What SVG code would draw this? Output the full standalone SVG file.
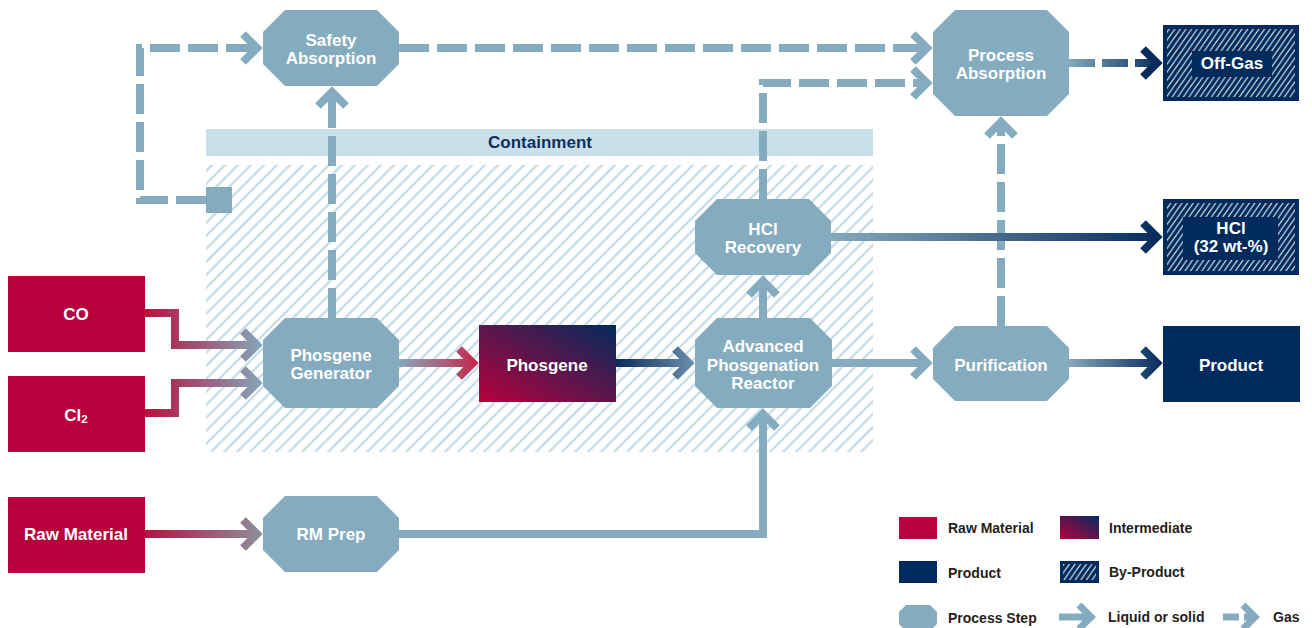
<svg xmlns="http://www.w3.org/2000/svg" width="1312" height="628" viewBox="0 0 1312 628">
<defs>
<style>
text{font-family:"Liberation Sans",Arial,sans-serif;font-weight:bold}
.nt{fill:#ffffff;font-size:17px;text-anchor:middle}
.lt{fill:#231f20;font-size:14px}
.step{fill:#85acbe}
.raw{fill:#b8003c}
.prod{fill:#002b5c}
.ln{fill:none;stroke-width:8;stroke-linejoin:miter;stroke-linecap:butt}
.gas{stroke-dasharray:30 8}
.lb{stroke:#85acbe}
</style>
<pattern id="hatch" patternUnits="userSpaceOnUse" width="13" height="13">
<path d="M-3,3 L3,-3 M0,13 L13,0 M10,16 L16,10" stroke="#c9dfea" stroke-width="2.6"/>
</pattern>
<pattern id="bph" patternUnits="userSpaceOnUse" width="6.5" height="6.5" patternTransform="rotate(-10)">
<path d="M-1.5,1.5 L1.5,-1.5 M0,6.5 L6.5,0 M5,8 L8,5" stroke="#ffffff" stroke-width="1"/>
</pattern>
<linearGradient id="gInter" x1="0" y1="1" x2="1" y2="0">
<stop offset="0" stop-color="#b8003c"/>
<stop offset="1" stop-color="#022a5c"/>
</linearGradient>
<linearGradient id="gCO" gradientUnits="userSpaceOnUse" x1="145" y1="0" x2="262" y2="0">
<stop offset="0" stop-color="#b8103f"/>
<stop offset="1" stop-color="#84a6b9"/>
</linearGradient>
<linearGradient id="gRM" gradientUnits="userSpaceOnUse" x1="145" y1="0" x2="262" y2="0">
<stop offset="0" stop-color="#b8103f"/>
<stop offset="1" stop-color="#8c8f9c"/>
</linearGradient>
<linearGradient id="gPG" gradientUnits="userSpaceOnUse" x1="399" y1="0" x2="478" y2="0">
<stop offset="0" stop-color="#86a9bc"/>
<stop offset="1" stop-color="#c4264b"/>
</linearGradient>
<linearGradient id="gPh" gradientUnits="userSpaceOnUse" x1="616" y1="0" x2="694" y2="0">
<stop offset="0" stop-color="#0b2c5a"/>
<stop offset="1" stop-color="#6a8fab"/>
</linearGradient>
<linearGradient id="gPur" gradientUnits="userSpaceOnUse" x1="1069" y1="0" x2="1162" y2="0">
<stop offset="0" stop-color="#86a9bc"/>
<stop offset="1" stop-color="#052b5c"/>
</linearGradient>
<linearGradient id="gHCl" gradientUnits="userSpaceOnUse" x1="831" y1="0" x2="1162" y2="0">
<stop offset="0" stop-color="#86a9bc"/>
<stop offset="1" stop-color="#052b5c"/>
</linearGradient>
</defs>

<rect width="1312" height="628" fill="#ffffff"/>

<g id="containment">
<rect x="206" y="165" width="667" height="287" fill="url(#hatch)"/>
<rect x="206" y="129" width="667" height="27" fill="#c9dfea"/>
<text x="540" y="148" style="fill:#0d2f5c;font-size:17px" text-anchor="middle">Containment</text>
</g>

<g id="connectors">
<path class="ln gas lb" d="M206,200 H140 V48 H257"/>
<path class="ln lb" d="M243,34 L257,48 L243,62"/>
<path class="ln gas lb" d="M332,318 V92"/>
<path class="ln lb" d="M318,106 L332,92 L346,106"/>
<path class="ln gas lb" d="M399,48 H927"/>
<path class="ln lb" d="M913,34 L927,48 L913,62"/>
<path class="ln gas lb" d="M763,199 V83 H927"/>
<path class="ln lb" d="M913,69 L927,83 L913,97"/>
<path class="ln gas lb" d="M1001,326 V122"/>
<path class="ln lb" d="M987,136 L1001,122 L1015,136"/>
<path class="ln" stroke="url(#gPur)" stroke-dasharray="26 7" d="M1069,63 H1157"/>
<path class="ln" stroke="#052b5c" d="M1143,49 L1157,63 L1143,77"/>
<path class="ln" stroke="url(#gHCl)" d="M831,237 H1157 M1143,223 L1157,237 L1143,251"/>
<path class="ln" stroke="url(#gCO)" d="M145,313 H175 V345 H257 M243,331 L257,345 L243,359"/>
<path class="ln" stroke="url(#gCO)" d="M145,413 H175 V383 H257 M243,369 L257,383 L243,397"/>
<path class="ln" stroke="url(#gPG)" d="M399,363 H473 M459,349 L473,363 L459,377"/>
<path class="ln" stroke="url(#gPh)" d="M616,363 H689 M675,349 L689,363 L675,377"/>
<path class="ln lb" d="M763,318 V281 M749,295 L763,281 L777,295"/>
<path class="ln lb" d="M832,363 H927 M913,349 L927,363 L913,377"/>
<path class="ln" stroke="url(#gPur)" d="M1069,363 H1157 M1143,349 L1157,363 L1143,377"/>
<path class="ln lb" d="M399,534 H763 V414 M749,428 L763,414 L777,428"/>
<path class="ln" stroke="url(#gRM)" d="M145,534 H257 M243,520 L257,534 L243,548"/>
</g>

<g id="vent"><rect x="206" y="187" width="26" height="26" fill="#85acbe"/></g>

<g id="co"><rect class="raw" x="8" y="276" width="137" height="76"/><text class="nt" x="76" y="320">CO</text></g>
<g id="cl2"><rect class="raw" x="8" y="376" width="137" height="76"/><text class="nt" x="76" y="420.5">Cl<tspan font-size="11.5px" dy="2">2</tspan></text></g>
<g id="raw-material"><rect class="raw" x="8" y="497" width="137" height="76"/><text class="nt" x="76" y="540">Raw Material</text></g>

<g id="safety-absorption"><polygon class="step" points="285,10 377,10 399,32 399,64 377,86 285,86 263,64 263,32"/><text class="nt" x="331" y="46">Safety</text><text class="nt" x="331" y="64">Absorption</text></g>
<g id="phosgene-generator"><polygon class="step" points="285,318 377,318 399,340 399,386 377,408 285,408 263,386 263,340"/><text class="nt" x="331" y="361">Phosgene</text><text class="nt" x="331" y="379">Generator</text></g>
<g id="rm-prep"><polygon class="step" points="285,496 377,496 399,518 399,550 377,572 285,572 263,550 263,518"/><text class="nt" x="331" y="540">RM Prep</text></g>

<g id="phosgene"><rect x="479" y="325" width="137" height="77" fill="url(#gInter)"/><text class="nt" x="547" y="370.5">Phosgene</text></g>

<g id="hcl-recovery"><polygon class="step" points="717,199 809,199 831,221 831,253 809,275 717,275 695,253 695,221"/><text class="nt" x="763" y="235">HCl</text><text class="nt" x="763" y="253">Recovery</text></g>
<g id="apr"><polygon class="step" points="717,318 810,318 832,340 832,386 810,408 717,408 695,386 695,340"/><text class="nt" x="763" y="352">Advanced</text><text class="nt" x="763" y="370.5">Phosgenation</text><text class="nt" x="763" y="388.5">Reactor</text></g>

<g id="process-absorption"><polygon class="step" points="955,10 1047,10 1069,32 1069,94 1047,116 955,116 933,94 933,32"/><text class="nt" x="1001" y="61">Process</text><text class="nt" x="1001" y="79">Absorption</text></g>
<g id="purification"><polygon class="step" points="955,326 1047,326 1069,348 1069,379 1047,401 955,401 933,379 933,348"/><text class="nt" x="1001" y="370.5">Purification</text></g>

<g id="off-gas"><rect class="prod" x="1163" y="25" width="136" height="76"/><rect x="1167" y="29" width="128" height="68" fill="url(#bph)"/><rect class="prod" x="1192" y="51" width="80" height="26"/><text class="nt" x="1232" y="69">Off-Gas</text></g>
<g id="hcl"><rect class="prod" x="1163" y="199" width="136" height="76"/><rect x="1167" y="203" width="128" height="68" fill="url(#bph)"/><rect class="prod" x="1183" y="217" width="95" height="43"/><text class="nt" x="1231" y="234">HCl</text><text class="nt" x="1231" y="252">(32 wt-%)</text></g>
<g id="product"><rect class="prod" x="1163" y="326" width="137" height="76"/><text class="nt" x="1231" y="370.5">Product</text></g>

<g id="legend">
<rect class="raw" x="899" y="517" width="38" height="22"/><text class="lt" x="948" y="533">Raw Material</text>
<rect x="1060" y="516" width="39" height="23" fill="url(#gInter)"/><text class="lt" x="1109" y="533">Intermediate</text>
<rect class="prod" x="899" y="561" width="38" height="22"/><text class="lt" x="948" y="578">Product</text>
<rect class="prod" x="1060" y="561" width="39" height="22"/><rect x="1063" y="564" width="33" height="16" fill="url(#bph)"/><text class="lt" x="1109" y="577">By-Product</text>
<polygon class="step" points="906,605 930,605 937,612 937,624 930,631 906,631 899,624 899,612"/><text class="lt" x="948" y="623">Process Step</text>
<path class="lb" fill="none" stroke-width="7" d="M1059,617 H1091 M1079,605 L1091,617 L1079,629"/><text class="lt" x="1108" y="622">Liquid or solid</text>
<path class="lb" fill="none" stroke-width="7" d="M1223,617 H1239 M1244,617 H1255 M1243,605 L1255,617 L1243,629"/><text class="lt" x="1273" y="622">Gas</text>
</g>
</svg>
